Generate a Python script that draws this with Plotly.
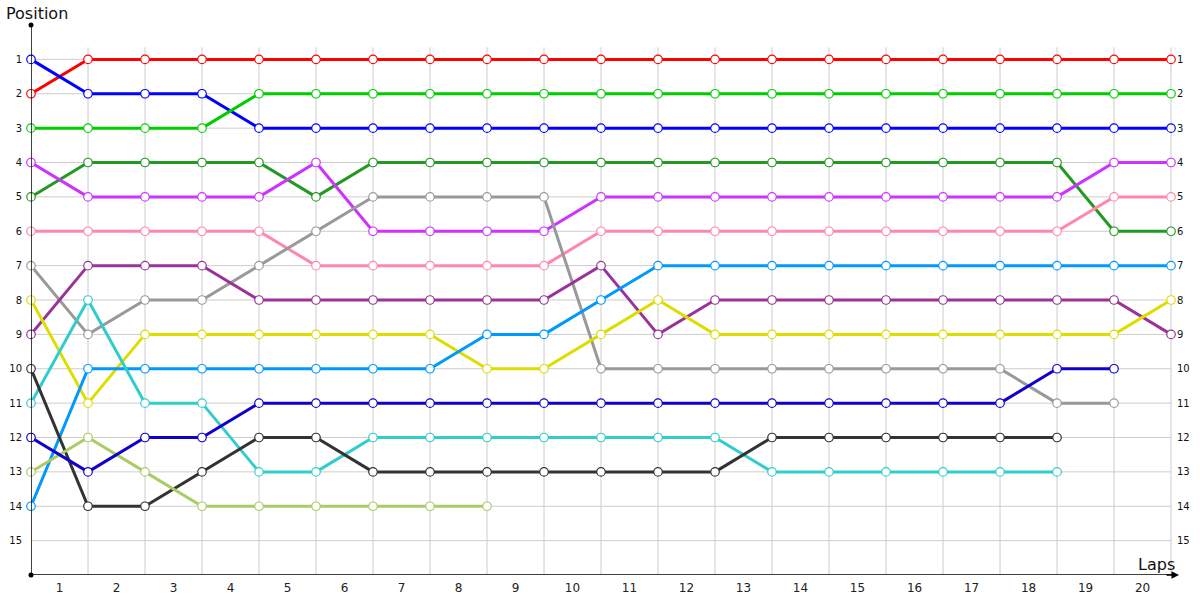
import plotly.graph_objects as go

laps = list(range(1, 21))
position_ticks = list(range(1, 16))

drivers = ["Red", "Blue", "Green", "Dark Green", "Magenta", "Pink", "Gray",
           "Purple", "Yellow", "Light Blue", "Cyan", "Dark Gray", "Light Green", "Dark Blue"]
colors = ["#ff0000", "#0000ff", "#00cc00", "#229922", "#cc33ff", "#ff88aa", "#999999",
          "#993399", "#dddd00", "#0099ff", "#33cccc", "#333333", "#aacc66", "#1100cc"]

positions = [
    [2] + [1] * 20,
    [1, 2, 2, 2] + [3] * 17,
    [3, 3, 3, 3] + [2] * 17,
    [5, 4, 4, 4, 4, 5] + [4] * 13 + [6, 6],
    [4, 5, 5, 5, 5, 4, 6, 6, 6, 6] + [5] * 9 + [4, 4],
    [6, 6, 6, 6, 6, 7, 7, 7, 7, 7] + [6] * 9 + [5, 5],
    [7, 9, 8, 8, 7, 6, 5, 5, 5, 5, 10, 10, 10, 10, 10, 10, 10, 10, 11, 11],
    [9, 7, 7, 7, 8, 8, 8, 8, 8, 8, 7, 9] + [8] * 8 + [9],
    [8, 11, 9, 9, 9, 9, 9, 9, 10, 10, 9, 8] + [9] * 8 + [8],
    [14, 10, 10, 10, 10, 10, 10, 10, 9, 9, 8] + [7] * 10,
    [11, 8, 11, 11, 13, 13, 12, 12, 12, 12, 12, 12, 12, 13, 13, 13, 13, 13, 13],
    [10, 14, 14, 13, 12, 12, 13, 13, 13, 13, 13, 13, 13, 12, 12, 12, 12, 12, 12],
    [13, 12, 13, 14, 14, 14, 14, 14, 14],
    [12, 13, 12, 12, 11, 11, 11, 11, 11, 11, 11, 11, 11, 11, 11, 11, 11, 11, 10, 10],
]

fig = go.Figure()

shapes = []
for i in range(1, 21):
    shapes.append(dict(type="line", x0=i, x1=i, y0=0.65, y1=16, xref="x", yref="y",
                       line=dict(color="#cccccc", width=1), layer="below"))
for p in position_ticks:
    shapes.append(dict(type="line", x0=0, x1=20, y0=p, y1=p, xref="x", yref="y",
                       line=dict(color="#cccccc", width=1), layer="below"))

for name, col, pos in zip(drivers, colors, positions):
    fig.add_trace(go.Scatter(
        x=list(range(len(pos))), y=pos, mode="lines+markers", name=name,
        line=dict(color=col, width=3),
        marker=dict(symbol="circle", size=8.5, color="white", line=dict(color=col, width=1.2)),
        cliponaxis=False, showlegend=False,
    ))

# axis end dots
fig.add_trace(go.Scatter(x=[0, 0], y=[0, 16], mode="markers",
                         marker=dict(color="black", size=5), cliponaxis=False,
                         showlegend=False, hoverinfo="skip"))
# right-side axis helper trace
fig.add_trace(go.Scatter(x=[None], y=[None], yaxis="y2", showlegend=False))

tickfont = dict(size=10, family="DejaVu Sans", color="#111111")

fig.update_layout(
    width=1200, height=600, autosize=False,
    paper_bgcolor="white", plot_bgcolor="white",
    margin=dict(l=31, r=21, t=25, b=25, pad=0),
    font=dict(family="DejaVu Sans", color="#222222"),
    xaxis=dict(range=[0, 20.14], tickvals=[l - 0.5 for l in laps], ticktext=[str(l) for l in laps],
               showgrid=False, zeroline=False, showline=False, ticks="", automargin=False,
               tickfont=dict(size=12, family="DejaVu Sans", color="#222222"),
               ticklabelstandoff=4),
    yaxis=dict(range=[16, 0], tickvals=position_ticks, ticktext=[str(p) for p in position_ticks],
               showgrid=False, zeroline=False, showline=False, ticks="", automargin=False,
               tickfont=tickfont, ticklabelstandoff=8),
    yaxis2=dict(range=[16, 0], overlaying="y", side="right", tickvals=position_ticks,
                ticktext=[str(p) for p in position_ticks], showgrid=False, zeroline=False,
                showline=False, ticks="", automargin=False, tickfont=tickfont,
                ticklabelstandoff=-3),
    shapes=shapes + [
        dict(type="line", x0=0, x1=0, y0=0, y1=16, xref="x", yref="y",
             line=dict(color="black", width=1.5)),
        dict(type="line", x0=0, x1=20.05, y0=16, y1=16, xref="x", yref="y",
             line=dict(color="black", width=1.5)),
    ],
    annotations=[
        dict(x=20.14, y=16, xref="x", yref="y", ax=-14, ay=0, showarrow=True,
             arrowhead=2, arrowsize=1, arrowwidth=1.5, arrowcolor="black", text=""),
        dict(x=-0.0235, y=1.02, xref="paper", yref="paper", text="Position", showarrow=False,
             xanchor="left", yanchor="middle", font=dict(size=16, family="DejaVu Sans", color="#111111")),
        dict(x=0.9985, y=0.02, xref="paper", yref="paper", text="Laps", showarrow=False,
             xanchor="right", yanchor="middle", font=dict(size=16, family="DejaVu Sans", color="#111111")),
    ],
)

fig.write_html("out.html", config={"displayModeBar": False},
               post_script="document.body.style.margin='0';document.body.style.overflow='hidden';")
